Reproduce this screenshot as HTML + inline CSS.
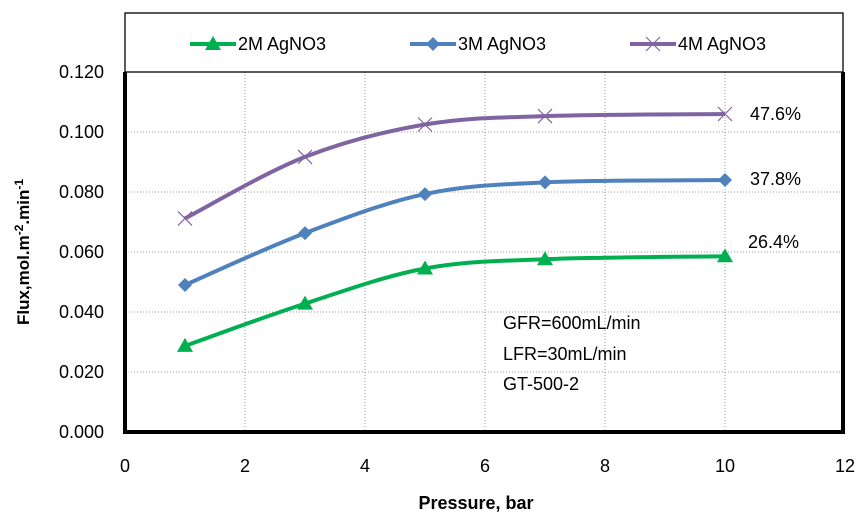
<!DOCTYPE html>
<html><head><meta charset="utf-8"><style>
body{margin:0;background:#fff;}
svg{font-family:"Liberation Sans",sans-serif;display:block}
</style></head><body>
<svg id="chart" width="859" height="521" viewBox="0 0 859 521">
<g id="grid"></g>
<g id="axes"></g>
<g id="series"></g>
<g id="legend"></g>
<text x="750" y="120" font-size="18">47.6%</text>
<text x="750" y="185" font-size="18">37.8%</text>
<text x="748" y="248" font-size="18">26.4%</text>
<g font-size="18">
<text x="503" y="329">GFR=600mL/min</text>
<text x="503" y="360">LFR=30mL/min</text>
<text x="503" y="390">GT-500-2</text>
</g>
<text x="476" y="509" font-size="18" font-weight="bold" text-anchor="middle">Pressure, bar</text>
<text transform="translate(29,252) rotate(-90)" font-size="17" font-weight="bold" text-anchor="middle">Flux,mol.m<tspan dy="-6" font-size="12">-2</tspan><tspan dy="6">.min</tspan><tspan dy="-6" font-size="12">-1</tspan></text>
</svg>
<script>
const pressures=[1,3,5,7,10];
const flux2M=[0.0287,0.0428,0.0545,0.0576,0.0586];
const flux3M=[0.049,0.0663,0.0793,0.0832,0.0840];
const flux4M=[0.0712,0.0917,0.1025,0.1053,0.1060];
const xTicks=[0,2,4,6,8,10,12];
const yTicks=[0,0.02,0.04,0.06,0.08,0.1,0.12];
const seriesNames=["2M AgNO3","3M AgNO3","4M AgNO3"];
const NS="http://www.w3.org/2000/svg";
const X0=125,X1=845,Y0=432,Y1=72;
const xs=v=>X0+(v-0)/(12-0)*(X1-X0);
const ys=v=>Y0-(v-0)/(0.12-0)*(Y0-Y1);
function mk(tag,attrs,parent){const e=document.createElementNS(NS,tag);for(const k in attrs)e.setAttribute(k,attrs[k]);parent.appendChild(e);return e;}
const grid=document.getElementById('grid'),axes=document.getElementById('axes'),ser=document.getElementById('series'),leg=document.getElementById('legend');
xTicks.forEach(t=>{
 if(t>0&&t<12){const l=mk('line',{x1:xs(t),x2:xs(t),y1:Y1,y2:Y0,stroke:'#999','stroke-dasharray':'1,2','stroke-width':1},grid);
 
 }
 const tx=mk('text',{x:xs(t),y:Y0+40,'font-size':18,'text-anchor':'middle'},axes);tx.textContent=t;
 
 
});
yTicks.forEach(t=>{
 if(t>0){const l=mk('line',{x1:X0,x2:X1,y1:ys(t),y2:ys(t),stroke:'#999','stroke-dasharray':'1,2','stroke-width':1},grid);
 
 }
 const tx=mk('text',{x:104,y:ys(t)+6,'font-size':18,'text-anchor':'end'},axes);tx.textContent=t.toFixed(3);
 
 
});
const fr=mk('path',{d:`M${X0} ${Y1} V${Y0} H${X1-2} V${Y1}`,fill:'none',stroke:'#000','stroke-width':4},axes);


mk('path',{d:`M${X0+3} ${Y1} V${Y0-3} H${X1-5}`,fill:'none',stroke:'#fff','stroke-width':1},axes);
function smooth(pts){let d=`M${pts[0][0]} ${pts[0][1]}`;for(let i=0;i<pts.length-1;i++){const p0=pts[i-1]||pts[i],p1=pts[i],p2=pts[i+1],p3=pts[i+2]||p2;const t=1/6;
 d+=` C${p1[0]+(p2[0]-p0[0])*t} ${p1[1]+(p2[1]-p0[1])*t} ${p2[0]-(p3[0]-p1[0])*t} ${p2[1]-(p3[1]-p1[1])*t} ${p2[0]} ${p2[1]}`;}return d;}
function marker(type,x,y,color,g){
 if(type==='tri')return mk('path',{d:`M${x} ${y-8} L${x+8} ${y+6} L${x-8} ${y+6}Z`,fill:color},g);
 if(type==='dia')return mk('path',{d:`M${x} ${y-7} L${x+7} ${y} L${x} ${y+7} L${x-7} ${y}Z`,fill:color},g);
 return mk('path',{d:`M${x-7} ${y-7} L${x+7} ${y+7} M${x+7} ${y-7} L${x-7} ${y+7}`,stroke:color,'stroke-width':1.2,fill:'none'},g);
}
const cfg=[[flux2M,'#00b050','tri'],[flux3M,'#4f81bd','dia'],[flux4M,'#8064a2','x']];
cfg.forEach(([vals,c,m],si)=>{
 const pts=pressures.map((p,i)=>[xs(p),ys(vals[i])]);
 const ln=mk('path',{d:smooth(pts),fill:'none',stroke:c,'stroke-width':4},ser);
 
 
 pts.forEach(p=>{const mm=marker(m,p[0],p[1],c,ser);
  
  });
});
const lb=mk('rect',{x:X0,y:13,width:X1-X0-2,height:Y1-13,fill:'#fff',stroke:'#000','stroke-width':1.3},leg);


const lx=[190,410,630];
cfg.forEach(([v,c,m],i)=>{
 const g=mk('g',{},leg);
 
 
 mk('line',{x1:lx[i],x2:lx[i]+46,y1:44,y2:44,stroke:c,'stroke-width':4},g);
 marker(m,lx[i]+23,44,c,g);
 const t=mk('text',{x:lx[i]+48,y:50,'font-size':18},g);t.textContent=seriesNames[i];
});
</script>
</body></html>
